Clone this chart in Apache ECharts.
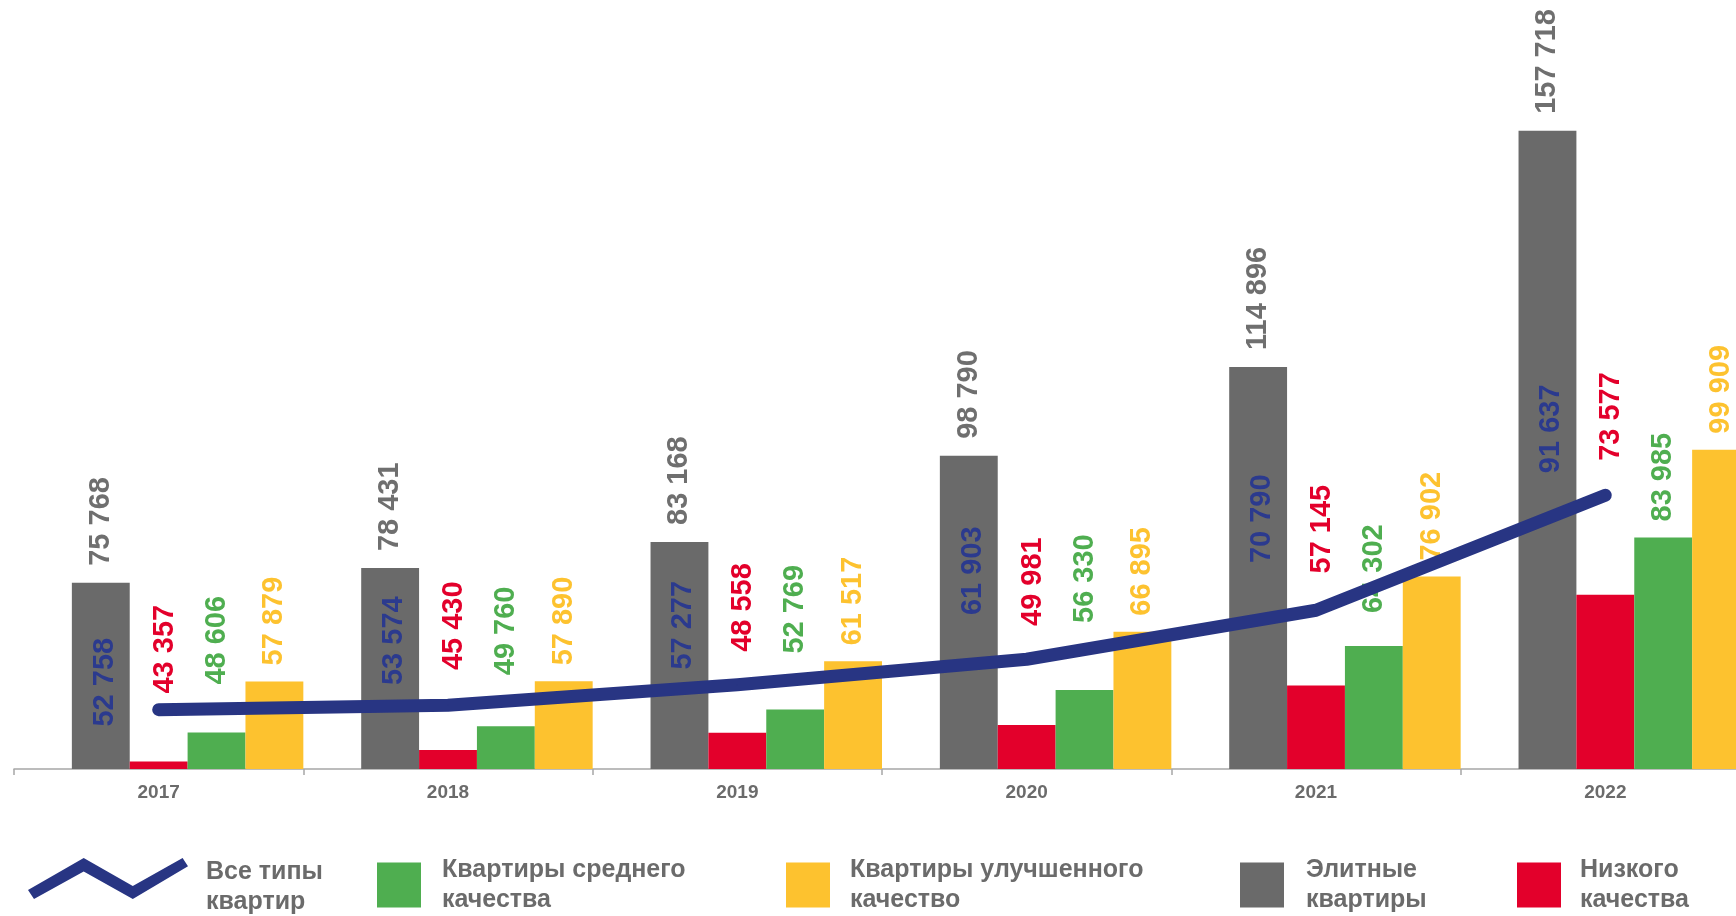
<!DOCTYPE html>
<html><head><meta charset="utf-8">
<script src="https://cdn.jsdelivr.net/npm/echarts@6/dist/echarts.min.js"></script>
<style>html,body{margin:0;padding:0;background:#fff}#c{width:1736px;height:916px}</style>
</head><body><div id="c"></div>
<script>
// ---- data ----
const years = ['2017', '2018', '2019', '2020', '2021', '2022'];
const allTypes = [52758, 53574, 57277, 61903, 70790, 91637];   // Все типы квартир (line)
const elite    = [75768, 78431, 83168, 98790, 114896, 157718]; // Элитные квартиры
const low      = [43357, 45430, 48558, 49981, 57145, 73577];   // Низкого качества
const medium   = [48606, 49760, 52769, 56330, 64302, 83985];   // Квартиры среднего качества
const improved = [57879, 57890, 61517, 66895, 76902, 99909];   // Квартиры улучшенного качество

// ---- label layout (px gaps, styling only) ----
const lowLabelGap = [68, 80, 81, 99, 112, 134];
const mediumLabelGap = [48, 51, 56, 67, 33, 16];
const allLabelRise = [27, 64, 59, 88, 91, 66];

const C = {
  grey: '#6a6a6a', red: '#e3002b', green: '#4fae50', yellow: '#fdc22f', navy: '#283583', text: '#6b6b6b'
};
const FONT = "'Liberation Sans', Arial, sans-serif";
const fmt = v => String(v).replace(/\B(?=(\d{3})+(?!\d))/g, ' ');

function rotLabel(color, extra) {
  return Object.assign({
    show: true, position: 'top', rotate: 90, align: 'left', verticalAlign: 'middle',
    color: color, fontFamily: FONT, fontWeight: 'bold', fontSize: 29,
    formatter: p => fmt(p.value)
  }, extra || {});
}

const names = {
  all: 'Все типы квартир', mid: 'Квартиры среднего качества', imp: 'Квартиры улучшенного качество',
  elite: 'Элитные квартиры', low: 'Низкого качества'
};
const legendText = {};
legendText[names.all] = 'Все типы\nквартир';
legendText[names.mid] = 'Квартиры среднего\nкачества';
legendText[names.imp] = 'Квартиры улучшенного\nкачество';
legendText[names.elite] = 'Элитные\nквартиры';
legendText[names.low] = 'Низкого\nкачества';

function legendAt(name, left, top, w, h, gap, icon) {
  return {
    data: [name], left: left, top: top, padding: 0, orient: 'horizontal',
    itemWidth: w, itemHeight: h, icon: icon || 'rect', selectedMode: false,
    itemStyle: { borderWidth: 0 },
    formatter: n => legendText[n],
    textStyle: { color: C.text, fontFamily: FONT,
      fontWeight: 'bold', fontSize: 25, lineHeight: 30, padding: [0, 0, 0, gap] }
  };
}
const zigzag = 'path://M0,32 L55.7,0 L104.8,28 L154.6,0 L160,8.2 L104.8,41 L55.7,13.4 L6,41 Z M0,57.9 L0.1,58 L0,58 Z';

const chart = echarts.init(document.getElementById('c'), null, { renderer: 'canvas' });
chart.setOption({
  backgroundColor: '#ffffff',
  animation: false,
  grid: { left: 14, right: -14, top: 8, bottom: 147, containLabel: false, outerBoundsMode: 'none' },
  xAxis: {
    type: 'category', data: years, boundaryGap: true,
    axisLine: { lineStyle: { color: '#a6a6a6', width: 1.5 } },
    axisTick: { show: true, length: 6, lineStyle: { color: '#a6a6a6', width: 1.5 } },
    axisLabel: { color: C.text, fontFamily: FONT, fontWeight: 'bold', fontSize: 19, margin: 14 }
  },
  yAxis: { type: 'value', min: 42000, max: 180000, show: false, splitLine: { show: false } },
  legend: [
    legendAt(names.all, 28, 857, 160, 58, 13, zigzag),
    legendAt(names.mid, 377, 855, 44, 45, 16),
    legendAt(names.imp, 786, 855, 44, 45, 15),
    legendAt(names.elite, 1240, 855, 44, 45, 17),
    legendAt(names.low, 1517, 855, 44, 45, 14)
  ],
  series: [
    { type: 'bar', name: '', data: years.map(() => null), barGap: '0%', barCategoryGap: '0%', silent: true },
    { type: 'bar', name: names.elite, data: elite, itemStyle: { color: C.grey },
      label: rotLabel('#6f6f6f', { distance: 17 }) },
    { type: 'bar', name: names.low, itemStyle: { color: C.red },
      data: low.map((v, i) => ({ value: v, label: { distance: lowLabelGap[i] } })),
      label: rotLabel(C.red), labelLayout: { dy: 6 } },
    { type: 'bar', name: names.mid, itemStyle: { color: C.green },
      data: medium.map((v, i) => ({ value: v, label: { distance: mediumLabelGap[i] } })),
      label: rotLabel(C.green) },
    { type: 'bar', name: names.imp, data: improved, itemStyle: { color: C.yellow },
      label: rotLabel(C.yellow, { distance: 16 }) },
    { type: 'line', name: names.all, color: C.navy, z: 3,
      data: allTypes.map((v, i) => ({ value: v, label: { distance: allLabelRise[i] } })),
      symbol: 'circle', symbolSize: 1, showSymbol: true,
      itemStyle: { color: C.navy, borderWidth: 0 },
      lineStyle: { color: C.navy, width: 13, cap: 'round', join: 'round' },
      label: rotLabel('#2b3a8e', { align: 'center' }),
      labelLayout: { dy: -54, hideOverlap: false }
    }
  ]
});
</script></body></html>
